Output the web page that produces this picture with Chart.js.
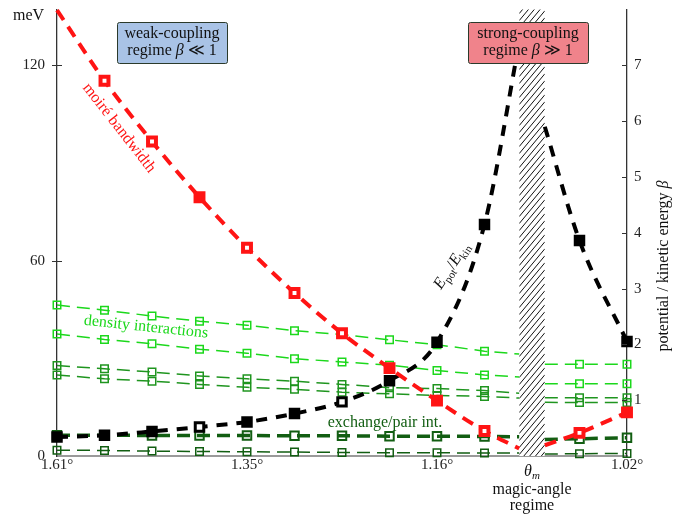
<!DOCTYPE html>
<html>
<head>
<meta charset="utf-8">
<script src="https://cdn.jsdelivr.net/npm/chart.js@4.4.0/dist/chart.umd.min.js"></script>
<style>
  html, body { margin: 0; padding: 0; background: #fff; }
</style>
</head>
<body>
<canvas id="chart" width="688" height="520"></canvas>
<script>
// x positions along the twist-angle steps; 9.73 / 10.27 are the edges of the magic-angle band, 10 is the gap
const xSteps = [0, 1, 2, 3, 4, 5, 6, 7, 8, 9, 9.73, 10, 10.27, 11, 12];
const xTickPos = [0, 4, 8, 10, 12];
const xTickLabels = ['1.61°', '1.35°', '1.16°', '', '1.02°'];
const leftTicks = [0, 60, 120];
const rightTicks = [1, 2, 3, 4, 5, 6, 7];
const hatchBand = [9.73, 10.27];

// meV (left axis)
const bandwidth   = [137, 115.3, 96.6, 79.5, 64.0, 50.1, 37.7, 27.0, 17.0, 7.7, 2.3, null, 3.3, 7.1, 13.4];
const density1    = [46.4, 44.8, 43.0, 41.4, 40.2, 38.5, 37.3, 35.7, 34.2, 32.2, 31.3, null, 28.2, 28.2, 28.2];
const density2    = [37.5, 35.8, 34.5, 32.8, 31.6, 29.9, 28.9, 27.9, 26.3, 24.9, 24.3, null, 22.2, 22.2, 22.2];
const density3    = [27.8, 26.8, 25.8, 24.6, 23.7, 23.0, 22.0, 21.0, 20.7, 20.1, 19.3, null, 17.9, 17.9, 17.9];
const density4    = [24.9, 23.7, 23.0, 22.0, 21.1, 20.5, 19.6, 19.1, 18.6, 18.3, 17.8, null, 16.5, 16.4, 16.4];
const exchange    = [6.4, 6.4, 6.3, 6.3, 6.3, 6.2, 6.2, 6.1, 6.1, 6.0, 5.9, null, 5.1, 5.3, 5.6];
const pairInt     = [1.8, 1.7, 1.5, 1.4, 1.3, 1.2, 1.1, 1.0, 1.0, 0.9, 0.9, null, 0.6, 0.7, 0.8];
// beta = E_pot / E_kin (right axis)
const betaRatio   = [0.34, 0.37, 0.44, 0.52, 0.61, 0.76, 0.97, 1.35, 2.04, 4.15, 7.4, null, 5.9, 3.86, 2.05];

const SERIF = '"Liberation Serif", "DejaVu Serif", serif';
const RED = '#ff1414', LIME = '#1cd81c', MID = '#1f951f', DARK = '#125e12';

const toXY = arr => xSteps.map((x, i) => ({ x: x, y: arr[i] }));
const markers = (r, arr) => xSteps.map((x, i) => (arr[i] === null || x % 1 !== 0) ? 0 : r);

function greenSet(values, color, width, order) {
  return {
    data: toXY(values), yAxisID: 'y', borderColor: color, borderWidth: width,
    borderDash: [13, 7], pointStyle: 'rect', pointRadius: markers(width > 2 ? 6 : 5.3, values),
    pointBorderColor: color, pointBackgroundColor: 'rgba(0,0,0,0)', pointBorderWidth: width > 2 ? 2 : 1.5,
    tension: 0, order: order, clip: 8
  };
}

const redMarks = markers(5.6, bandwidth);
redMarks[0] = 0;
const redFill = ['#fff', '#fff', '#fff', RED, '#fff', '#fff', '#fff', RED, RED, '#fff', '#fff', '#fff', '#fff', '#fff', RED];
const blackFill = ['#000', '#000', '#000', '#fff', '#000', '#000', '#fff', '#000', '#000', '#000', '#000', '#000', '#000', '#000', '#000'];

function rich(ctx, parts, x, y) {
  let w = 0;
  parts.forEach(p => { ctx.font = p.f; w += ctx.measureText(p.t).width; });
  let cx = x - w / 2;
  ctx.textAlign = 'left';
  parts.forEach(p => {
    ctx.font = p.f;
    ctx.fillText(p.t, cx, y + (p.dy || 0));
    cx += ctx.measureText(p.t).width;
  });
}

function box(ctx, x0, y0, x1, y1, fill, lines) {
  ctx.save();
  ctx.fillStyle = fill;
  ctx.strokeStyle = '#2b3a2b';
  ctx.lineWidth = 1;
  ctx.beginPath();
  ctx.roundRect(x0 + 0.5, y0 + 0.5, x1 - x0, y1 - y0, 2);
  ctx.fill();
  ctx.stroke();
  ctx.fillStyle = '#111';
  ctx.textBaseline = 'alphabetic';
  const cx = (x0 + x1) / 2;
  rich(ctx, lines[0], cx, y0 + 16);
  rich(ctx, lines[1], cx, y0 + 33);
  ctx.restore();
}

const decor = {
  id: 'decor',
  beforeDatasetsDraw(chart) {
    const { ctx, chartArea: a, scales } = chart;
    const xa = scales.x.getPixelForValue(hatchBand[0]);
    const xb = scales.x.getPixelForValue(hatchBand[1]);
    ctx.save();
    ctx.beginPath();
    ctx.rect(xa, a.top, xb - xa, a.bottom - a.top);
    ctx.clip();
    ctx.fillStyle = '#fff';
    ctx.fill();
    ctx.strokeStyle = '#111';
    ctx.lineWidth = 1;
    const rise = (xb - xa) * 1.2;
    for (let y = a.top - 10; y < a.bottom + rise + 10; y += 7) {
      ctx.beginPath();
      ctx.moveTo(xa, y);
      ctx.lineTo(xb, y - rise);
      ctx.stroke();
    }
    ctx.restore();
  },
  afterDatasetsDraw(chart) {
    const { ctx, chartArea: a, scales } = chart;
    ctx.save();

    // tick marks
    ctx.strokeStyle = '#333';
    ctx.lineWidth = 1;
    leftTicks.forEach(v => {
      if (v === 0) return;
      const y = Math.round(scales.y.getPixelForValue(v)) + 0.5;
      ctx.beginPath(); ctx.moveTo(a.left - 5, y); ctx.lineTo(a.left + 5, y); ctx.stroke();
    });
    rightTicks.forEach(v => {
      const y = Math.round(scales.yb.getPixelForValue(v)) + 0.5;
      ctx.beginPath(); ctx.moveTo(a.right - 5, y); ctx.lineTo(a.right, y); ctx.stroke();
    });

    // regime boxes
    const reg = '16px ' + SERIF, regI = 'italic 16px ' + SERIF;
    box(ctx, 117, 22, 227, 63, '#a9c3e6', [
      [{ t: 'weak-coupling', f: reg }],
      [{ t: 'regime ', f: reg }, { t: 'β', f: regI }, { t: ' ≪ 1', f: reg }]
    ]);
    box(ctx, 468, 22, 588, 63, '#f0838b', [
      [{ t: 'strong-coupling', f: reg }],
      [{ t: 'regime ', f: reg }, { t: 'β', f: regI }, { t: ' ≫ 1', f: reg }]
    ]);

    // curve labels
    ctx.textBaseline = 'middle';
    ctx.textAlign = 'center';
    ctx.font = '16px ' + SERIF;

    ctx.save();
    ctx.translate(119, 128);
    ctx.rotate(52 * Math.PI / 180);
    ctx.fillStyle = RED;
    ctx.fillText('moiré bandwidth', 0, 0);
    ctx.restore();

    ctx.save();
    ctx.translate(146, 327);
    ctx.rotate(6 * Math.PI / 180);
    ctx.fillStyle = LIME;
    ctx.fillText('density interactions', 0, 0);
    ctx.restore();

    ctx.fillStyle = DARK;
    ctx.fillText('exchange/pair int.', 385, 423);

    // E_pot / E_kin
    ctx.save();
    ctx.translate(441, 290);
    ctx.rotate(-57 * Math.PI / 180);
    ctx.fillStyle = '#111';
    ctx.textBaseline = 'alphabetic';
    ctx.textAlign = 'left';
    let cx = 0;
    const seg = (t, f, dy) => { ctx.font = f; ctx.fillText(t, cx, dy); cx += ctx.measureText(t).width; };
    seg('E', 'italic 16px ' + SERIF, 0);
    seg('pot', '11px ' + SERIF, 4);
    seg('/', '16px ' + SERIF, 0);
    seg('E', 'italic 16px ' + SERIF, 0);
    seg('kin', '11px ' + SERIF, 4);
    ctx.restore();

    // axis titles
    ctx.fillStyle = '#111';
    ctx.textBaseline = 'alphabetic';
    ctx.font = '16px ' + SERIF;
    ctx.textAlign = 'left';
    ctx.fillText('meV', 13, 20);

    ctx.save();
    ctx.translate(668, 266);
    ctx.rotate(-Math.PI / 2);
    rich(ctx, [{ t: 'potential / kinetic energy ', f: '16px ' + SERIF }, { t: 'β', f: 'italic 16px ' + SERIF }], 0, 0);
    ctx.restore();

    // magic angle label under the axis
    const xm = scales.x.getPixelForValue(10);
    ctx.font = 'italic 16px ' + SERIF;
    ctx.textAlign = 'left';
    const tw = ctx.measureText('θ').width;
    ctx.font = 'italic 11px ' + SERIF;
    const mw = ctx.measureText('m').width;
    ctx.font = 'italic 16px ' + SERIF;
    ctx.fillText('θ', xm - (tw + mw) / 2, 476);
    ctx.font = 'italic 11px ' + SERIF;
    ctx.fillText('m', xm - (tw + mw) / 2 + tw, 479);
    ctx.textAlign = 'center';
    ctx.font = '16px ' + SERIF;
    ctx.fillText('magic-angle', xm, 494);
    ctx.fillText('regime', xm, 510);

    ctx.restore();
  }
};

new Chart(document.getElementById('chart'), {
  type: 'line',
  data: {
    datasets: [
      {
        data: toXY(bandwidth), yAxisID: 'y', borderColor: RED, borderWidth: 4, borderDash: [12, 8],
        pointStyle: 'rect', pointRadius: redMarks, pointBorderColor: RED, pointBackgroundColor: redFill,
        pointBorderWidth: 4, cubicInterpolationMode: 'monotone', order: 0, clip: 8
      },
      {
        data: toXY(betaRatio), yAxisID: 'yb', borderColor: '#000', borderWidth: 4, borderDash: [11, 9],
        pointStyle: 'rect', pointRadius: markers(6, betaRatio), pointBorderColor: '#000',
        pointBackgroundColor: blackFill, pointBorderWidth: 3, cubicInterpolationMode: 'monotone', order: 1, clip: 8
      },
      greenSet(density1, LIME, 1.5, 2),
      greenSet(density2, LIME, 1.5, 3),
      greenSet(density3, MID, 1.5, 4),
      greenSet(density4, MID, 1.5, 5),
      greenSet(exchange, DARK, 3.5, 6),
      greenSet(pairInt, DARK, 1.5, 7)
    ]
  },
  options: {
    responsive: false,
    animation: false,
    events: [],
    spanGaps: false,
    layout: { padding: { top: 5, left: 0, right: 0, bottom: 0 } },
    plugins: { legend: { display: false }, tooltip: { enabled: false } },
    scales: {
      x: {
        type: 'linear', min: 0, max: 12,
        grid: { display: false, drawTicks: false },
        border: { display: true, color: '#9a9a9a', width: 2 },
        afterBuildTicks: s => { s.ticks = xTickPos.map(v => ({ value: v })); },
        afterFit: s => { s.height = 64; s.paddingLeft = 0; s.paddingRight = 0; },
        ticks: {
          autoSkip: false, maxRotation: 0, padding: 0, color: '#222',
          font: { family: SERIF, size: 15 },
          callback: v => xTickLabels[xTickPos.indexOf(v)]
        }
      },
      y: {
        position: 'left', min: 0, max: 8 * 120 / 7,
        grid: { display: false, drawTicks: false },
        border: { display: true, color: '#333', width: 1.3 },
        afterBuildTicks: s => { s.ticks = leftTicks.map(v => ({ value: v })); },
        afterFit: s => { s.width = 57; s.paddingTop = 0; s.paddingBottom = 0; },
        ticks: { padding: 12, color: '#222', font: { family: SERIF, size: 15 } }
      },
      yb: {
        position: 'right', min: 0, max: 8,
        grid: { display: false, drawTicks: false },
        border: { display: true, color: '#333', width: 1.3 },
        afterBuildTicks: s => { s.ticks = rightTicks.map(v => ({ value: v })); },
        afterFit: s => { s.width = 61; s.paddingTop = 0; s.paddingBottom = 0; },
        ticks: { padding: 7, color: '#222', font: { family: SERIF, size: 15 } }
      }
    }
  },
  plugins: [decor]
});
</script>
</body>
</html>
